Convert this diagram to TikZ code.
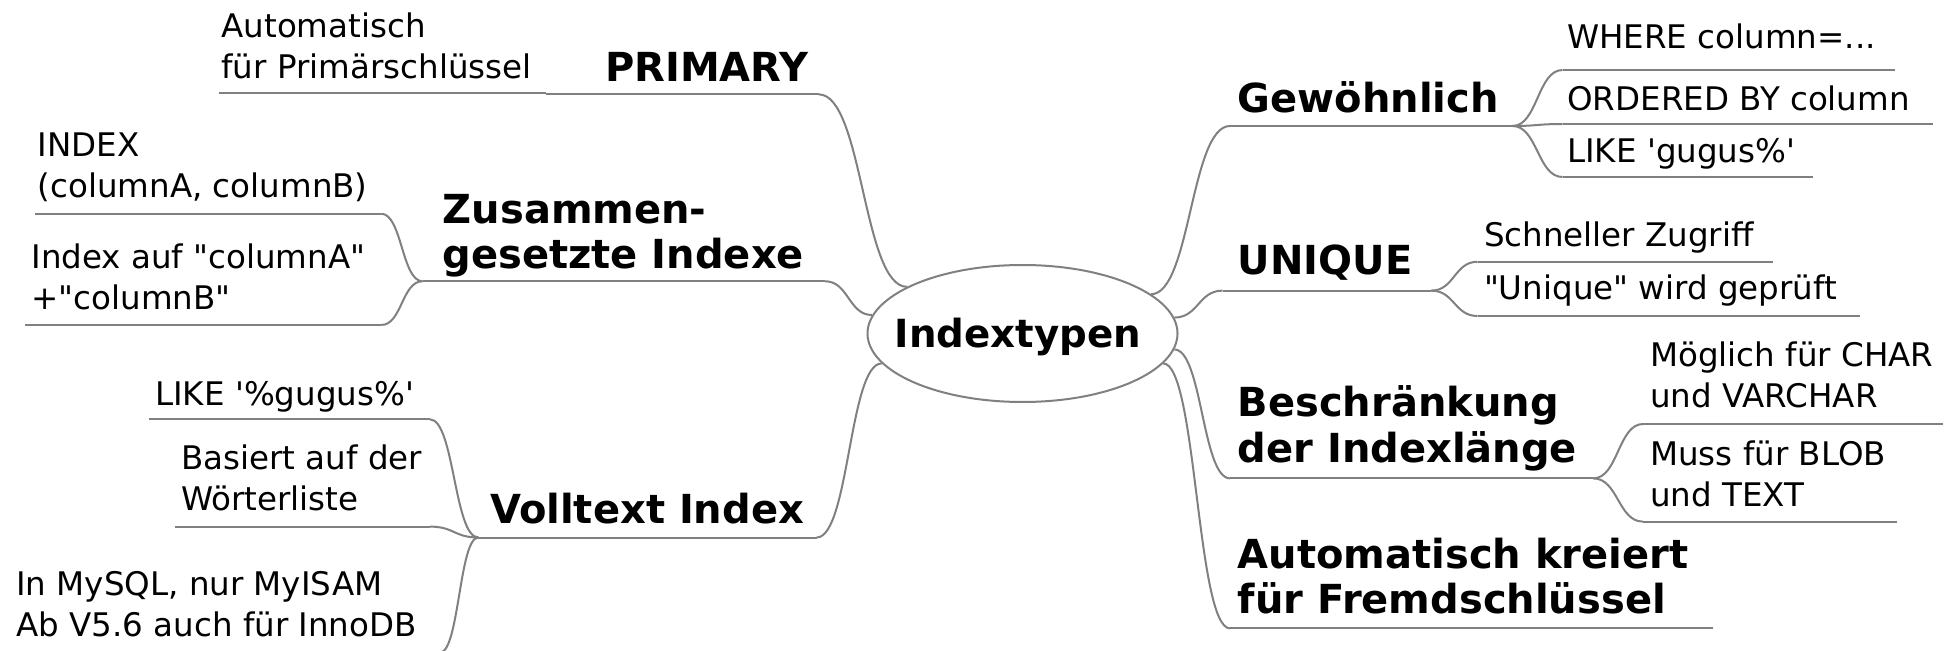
\documentclass[tikz,border=0pt]{standalone}
\usepackage{fontspec}
\newfontfamily\dvs{DejaVu Sans}
\usetikzlibrary{shapes.geometric,calc}
\definecolor{lc}{RGB}{128,128,128}
\newcommand\twoline[2]{\vtop{\hbox{#1}\hbox{#2}}}
\newcommand\mmconn[2]{\draw[conn] let \p1=(#1), \p2=(#2) in (\p1) .. controls ({0.5*\x1+0.5*\x2},\y1) and ({0.5*\x1+0.5*\x2},\y2) .. (\p2);}
\begin{document}
\begin{tikzpicture}[x=1pt,y=-1pt,
  conn/.style={draw=lc, line width=1.6pt},
  leaf/.style={font=\dvs\fontsize{26}{33}\selectfont, inner sep=0pt, anchor=base west},
  branch/.style={font=\dvs\bfseries\fontsize{32}{36.5}\selectfont, inner sep=0pt, anchor=base west},
  center/.style={ellipse, draw=lc, line width=1.6pt, minimum width=248pt, minimum height=109.6pt,
    inner sep=0pt, font=\dvs\bfseries\fontsize{31}{36}\selectfont, text height=0pt, text depth=0pt}]
\useasboundingbox (0,0) rectangle (1560,520.8);
\clip (0,0) rectangle (1560,520.8);

\node[center] (c) at (818,266.8) {\makebox[0pt]{\hspace*{-7pt}\raisebox{-11.3pt}{Indextypen}}};

% ---------- right: Gewoehnlich
\node[branch] (gw) at (990,90.2) {Gewöhnlich};
\coordinate (gw-l) at (984,100.8); \coordinate (gw-f) at (1210,100.8);
\draw[conn] (gw-l) -- (gw-f);
\mmconn{c.17.3}{gw-l}
\node[leaf] (gw1) at (1253.6,38.7) {WHERE column=...};
\coordinate (gw1-l) at (1250,56); \coordinate (gw1-r) at (1516,56);
\node[leaf] (gw2) at (1253.6,88.5) {ORDERED BY column};
\coordinate (gw2-l) at (1250,99.2); \coordinate (gw2-r) at (1546,99.2);
\node[leaf] (gw3) at (1253.6,130) {LIKE 'gugus\%'};
\coordinate (gw3-l) at (1250,141.6); \coordinate (gw3-r) at (1450,141.6);
\draw[conn] (gw1-l) -- (gw1-r);
\draw[conn] (gw2-l) -- (gw2-r);
\draw[conn] (gw3-l) -- (gw3-r);
\mmconn{gw-f}{gw1-l}
\mmconn{gw-f}{gw2-l}
\mmconn{gw-f}{gw3-l}

% ---------- right: UNIQUE
\node[branch] (un) at (990,220) {UNIQUE};
\coordinate (un-l) at (978,232.5); \coordinate (un-f) at (1145,232.5);
\draw[conn] (un-l) -- (un-f);
\mmconn{c.6.3}{un-l}
\node[leaf] (un1) at (1187,197.3) {Schneller Zugriff};
\coordinate (un1-l) at (1182,209.4); \coordinate (un1-r) at (1418,209.4);
\node[leaf] (un2) at (1187,240) {"Unique" wird geprüft};
\coordinate (un2-l) at (1182,252.8); \coordinate (un2-r) at (1488,252.8);
\draw[conn] (un1-l) -- (un1-r);
\draw[conn] (un2-l) -- (un2-r);
\mmconn{un-f}{un1-l}
\mmconn{un-f}{un2-l}

% ---------- right: Beschraenkung
\node[branch] (be) at (990,333.3) {\twoline{Beschränkung}{der Indexlänge}};
\coordinate (be-l) at (984,382.7); \coordinate (be-f) at (1274.6,382.7);
\draw[conn] (be-l) -- (be-f);
\mmconn{c.-6.2}{be-l}
\node[leaf] (be1) at (1320,293.3) {\twoline{Möglich für CHAR}{und VARCHAR}};
\coordinate (be1-l) at (1314.4,339.2); \coordinate (be1-r) at (1554.7,339.2);
\node[leaf] (be2) at (1320,372) {\twoline{Muss für BLOB}{und TEXT}};
\coordinate (be2-l) at (1314.4,417.3); \coordinate (be2-r) at (1517.3,417.3);
\draw[conn] (be1-l) -- (be1-r);
\draw[conn] (be2-l) -- (be2-r);
\mmconn{be-f}{be1-l}
\mmconn{be-f}{be2-l}

% ---------- right: Automatisch kreiert
\node[branch] (ak) at (990,454.5) {\twoline{Automatisch kreiert}{für Fremdschlüssel}};
\coordinate (ak-l) at (984,502.7); \coordinate (ak-r) at (1370,502.7);
\draw[conn] (ak-l) -- (ak-r);
\mmconn{c.-12.8}{ak-l}

% ---------- left: PRIMARY
\node[branch, anchor=base east] (pr) at (647,65) {PRIMARY};
\coordinate (pr-r) at (655,75.5); \coordinate (pr-f) at (437,75.5);
\draw[conn] (pr-f) -- (pr-r);
\mmconn{c.158.9}{pr-r}
\node[leaf] (pr1) at (177,30) {\twoline{Automatisch}{für Primärschlüssel}};
\coordinate (pr1-l) at (175,74.5); \coordinate (pr1-r) at (437,74.5);
\draw[conn] (pr1-l) -- (pr1-r);
\mmconn{pr-f}{pr1-r}

% ---------- left: Zusammengesetzte
\node[branch] (zu) at (354,178.7) {\twoline{Zusammen-}{gesetzte Indexe}};
\coordinate (zu-r) at (660,225); \coordinate (zu-f) at (338,225);
\draw[conn] (zu-f) -- (zu-r);
\mmconn{c.173.6}{zu-r}
\node[leaf] (zu1) at (30,125.3) {\twoline{INDEX}{(columnA, columnB)}};
\coordinate (zu1-l) at (28,171); \coordinate (zu1-r) at (305,171);
\node[leaf] (zu2) at (25,215) {\twoline{Index auf "columnA"}{+"columnB"}};
\coordinate (zu2-l) at (20,260); \coordinate (zu2-r) at (305,260);
\draw[conn] (zu1-l) -- (zu1-r);
\draw[conn] (zu2-l) -- (zu2-r);
\mmconn{zu-f}{zu1-r}
\mmconn{zu-f}{zu2-r}

% ---------- left: Volltext
\node[branch] (vt) at (392,418.7) {Volltext Index};
\coordinate (vt-r) at (653.3,430); \coordinate (vt-f) at (382.7,430);
\draw[conn] (vt-f) -- (vt-r);
\mmconn{c.192}{vt-r}
\node[leaf] (vt1) at (124,324) {LIKE '\%gugus\%'};
\coordinate (vt1-l) at (119.5,335.5); \coordinate (vt1-r) at (344,335.5);
\node[leaf] (vt2) at (144.8,375.5) {\twoline{Basiert auf der}{Wörterliste}};
\coordinate (vt2-l) at (140,421.3); \coordinate (vt2-r) at (344,421.3);
\node[leaf] (vt3) at (12.8,476) {\twoline{In MySQL, nur MyISAM}{Ab V5.6 auch für InnoDB}};
\coordinate (vt3-l) at (10,522); \coordinate (vt3-r) at (352,522);
\draw[conn] (vt1-l) -- (vt1-r);
\draw[conn] (vt2-l) -- (vt2-r);
\draw[conn] (vt3-l) -- (vt3-r);
\mmconn{vt-f}{vt1-r}
\mmconn{vt-f}{vt2-r}
\mmconn{vt-f}{vt3-r}
\end{tikzpicture}
\end{document}
